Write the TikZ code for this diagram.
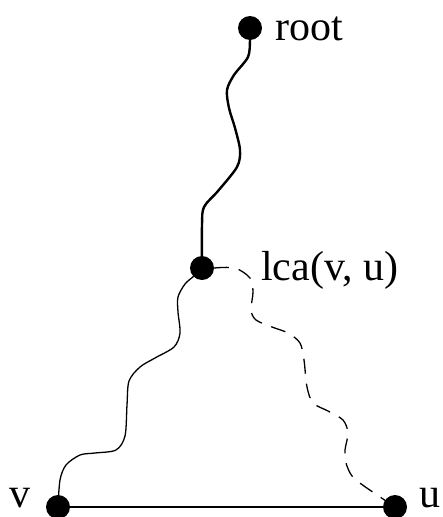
\documentclass[tikz,border=0pt]{standalone}
\usepackage{fontspec}
\setmainfont{Liberation Serif}
\usetikzlibrary{backgrounds}
\begin{document}
\begin{tikzpicture}[x=1pt,y=-1pt,
  vert/.style={circle,fill=black,inner sep=0pt,minimum size=24pt},
  lbl/.style={inner sep=0pt,font=\fontsize{42}{46}\selectfont},
  thickpath/.style={line width=2.4pt},
  thinpath/.style={line width=1.3pt},
  dashpath/.style={line width=1.3pt,dash pattern=on 15pt off 10pt}]
\useasboundingbox (0,0) rectangle (442,517);
\node[vert] (root) at (250,28) {};
\node[vert] (lca) at (202,268) {};
\node[vert] (v) at (58,507) {};
\node[vert] (u) at (395,507) {};
\node[lbl,anchor=base west] (rootl) at (275,40) {root};
\node[lbl,anchor=base west] (lcal) at (261,280) {lca(v, u)};
\node[lbl,anchor=base east] (vl) at (31,507) {v};
\node[lbl,anchor=base west] (ul) at (419,507) {u};
\begin{scope}[on background layer]
\draw[thickpath] plot[smooth] coordinates {(root.center) (250,40) (248,57) (234,75) (227,90) (229,108) (235,128) (240,150) (237,167) (218,191) (204,207) (202,225) (lca.center)};
\draw[thinpath] plot[smooth] coordinates {(lca.center) (194,276) (185,284) (178,297) (178,312) (180,333) (174,347) (155,358) (140,367) (129,381) (127,405) (125,436) (116,450) (95,453) (80,455) (66,465) (60,480) (v.center)};
\draw[dashpath] plot[smooth] coordinates {(214,268) (235,268) (250,278) (253,292) (251,310) (256,320) (272,327) (288,333) (300,343) (304,360) (307,387) (313,403) (328,411) (343,420) (348,433) (345,450) (346,463) (352,476) (364,486) (u.center)};
\draw[thinpath] (v.center) -- (u.center);
\end{scope}
\end{tikzpicture}
\end{document}
